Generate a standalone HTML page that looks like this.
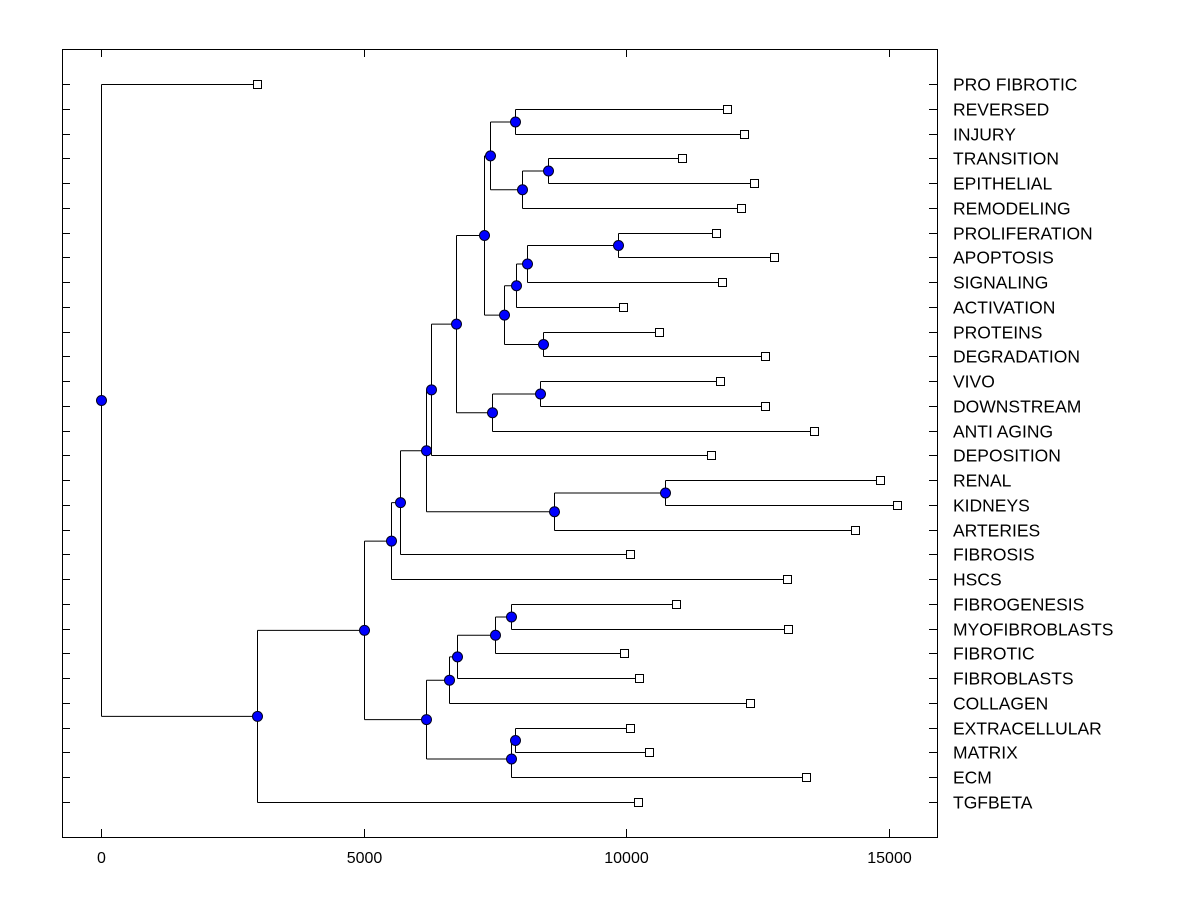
<!DOCTYPE html>
<html><head><meta charset="utf-8"><style>
body{margin:0;background:#fff}
svg{display:block}
text{font-family:"Liberation Sans",Arial,sans-serif}
</style></head><body>
<svg id="chart" width="1200" height="900"></svg>
<script>
const labels=["PRO FIBROTIC","REVERSED","INJURY","TRANSITION","EPITHELIAL","REMODELING","PROLIFERATION","APOPTOSIS","SIGNALING","ACTIVATION","PROTEINS","DEGRADATION","VIVO","DOWNSTREAM","ANTI AGING","DEPOSITION","RENAL","KIDNEYS","ARTERIES","FIBROSIS","HSCS","FIBROGENESIS","MYOFIBROBLASTS","FIBROTIC","FIBROBLASTS","COLLAGEN","EXTRACELLULAR","MATRIX","ECM","TGFBETA"];
const leafValues=[2971,11924,12248,11067,12438,12190,11714,12819,11829,9943,10629,12648,11790,12648,13581,11619,14838,15162,14362,10076,13067,10952,13086,9962,10248,12362,10076,10438,13429,10229];
// internal nodes: [name, value, childA, childB]; children are leaf labels or node names
const mergeNames=["revInj","trEp","ter","a","pa","pas","pasa","pd","b","c","vd","vda","d","e","rk","rka","f","g","h","fm","fmf","fmff","col","em","eme","i","j","k","root"];
const mergeValues=[7886,8514,8019,7410,9848,8114,7905,8419,7676,7295,8362,7448,6762,6286,10743,8629,6190,5695,5524,7810,7505,6781,6629,7886,7810,6190,5000,2971,0];
const mergeChildren=[["REVERSED","INJURY"],["TRANSITION","EPITHELIAL"],["trEp","REMODELING"],["revInj","ter"],["PROLIFERATION","APOPTOSIS"],["pa","SIGNALING"],["pas","ACTIVATION"],["PROTEINS","DEGRADATION"],["pasa","pd"],["a","b"],["VIVO","DOWNSTREAM"],["vd","ANTI AGING"],["c","vda"],["d","DEPOSITION"],["RENAL","KIDNEYS"],["rk","ARTERIES"],["e","rka"],["f","FIBROSIS"],["g","HSCS"],["FIBROGENESIS","MYOFIBROBLASTS"],["fm","FIBROTIC"],["fmf","FIBROBLASTS"],["fmff","COLLAGEN"],["EXTRACELLULAR","MATRIX"],["em","ECM"],["col","eme"],["h","i"],["j","TGFBETA"],["PRO FIBROTIC","k"]];
const xTicks=[0,5000,10000,15000];

const NS="http://www.w3.org/2000/svg";
const svg=document.getElementById('chart');
const L=62,R=937,T=49,B=837;
const xs=v=>101+v*(262.5/5000);
const ys=i=>84+i*(718/29);
function mk(tag,attrs,parent){const e=document.createElementNS(NS,tag);for(const k in attrs)e.setAttribute(k,attrs[k]);(parent||svg).appendChild(e);return e;}

const frame=mk('rect',{x:L+0.5,y:T+0.5,width:R-L,height:B-T,fill:'none',stroke:'#000','stroke-width':1});



xTicks.forEach(v=>{
  const x=Math.round(xs(v))+0.5;
  mk('line',{x1:x,y1:B,x2:x,y2:B-8,stroke:'#000'});
  mk('line',{x1:x,y1:T,x2:x,y2:T+8,stroke:'#000'});
  const t=mk('text',{x:x,y:863,'text-anchor':'middle','font-size':16,fill:'#000'});
  t.textContent=v;
  
  
});

const pos={};
labels.forEach((lab,i)=>{
  const y=Math.round(ys(i))+0.5;
  pos[lab]={x:xs(leafValues[i]),y:y,leaf:true};
  mk('line',{x1:L,y1:y,x2:L+8,y2:y,stroke:'#000'});
  mk('line',{x1:R-8,y1:y,x2:R,y2:y,stroke:'#000'});
  const t=mk('text',{x:953,y:y+6,'font-size':17.5,fill:'#000'});
  t.textContent=lab;
  
  
});
mergeNames.forEach((n,i)=>{
  const [a,b]=mergeChildren[i];
  pos[n]={x:xs(mergeValues[i]),y:(pos[a].y+pos[b].y)/2,leaf:false};
});
const g=mk('g',{});


mergeNames.forEach((n,i)=>{
  const p=pos[n];
  const [a,b]=mergeChildren[i];
  const x=Math.round(p.x)+0.5;
  mk('line',{x1:x,y1:pos[a].y,x2:x,y2:pos[b].y,stroke:'#000'},g);
  [a,b].forEach(c=>mk('line',{x1:x,y1:pos[c].y,x2:pos[c].x,y2:pos[c].y,stroke:'#000'},g));
});
labels.forEach(lab=>{
  const p=pos[lab];
  const r=mk('rect',{x:Math.round(p.x)-3.5,y:p.y-4,width:8,height:8,fill:'#fff',stroke:'#000'});
  
  
});
mergeNames.forEach(n=>{
  const p=pos[n];
  const c=mk('circle',{cx:Math.round(p.x)+0.5,cy:p.y,r:5,fill:'#0000ff',stroke:'#000020','stroke-width':1});
  
  
});
</script>
</body></html>
